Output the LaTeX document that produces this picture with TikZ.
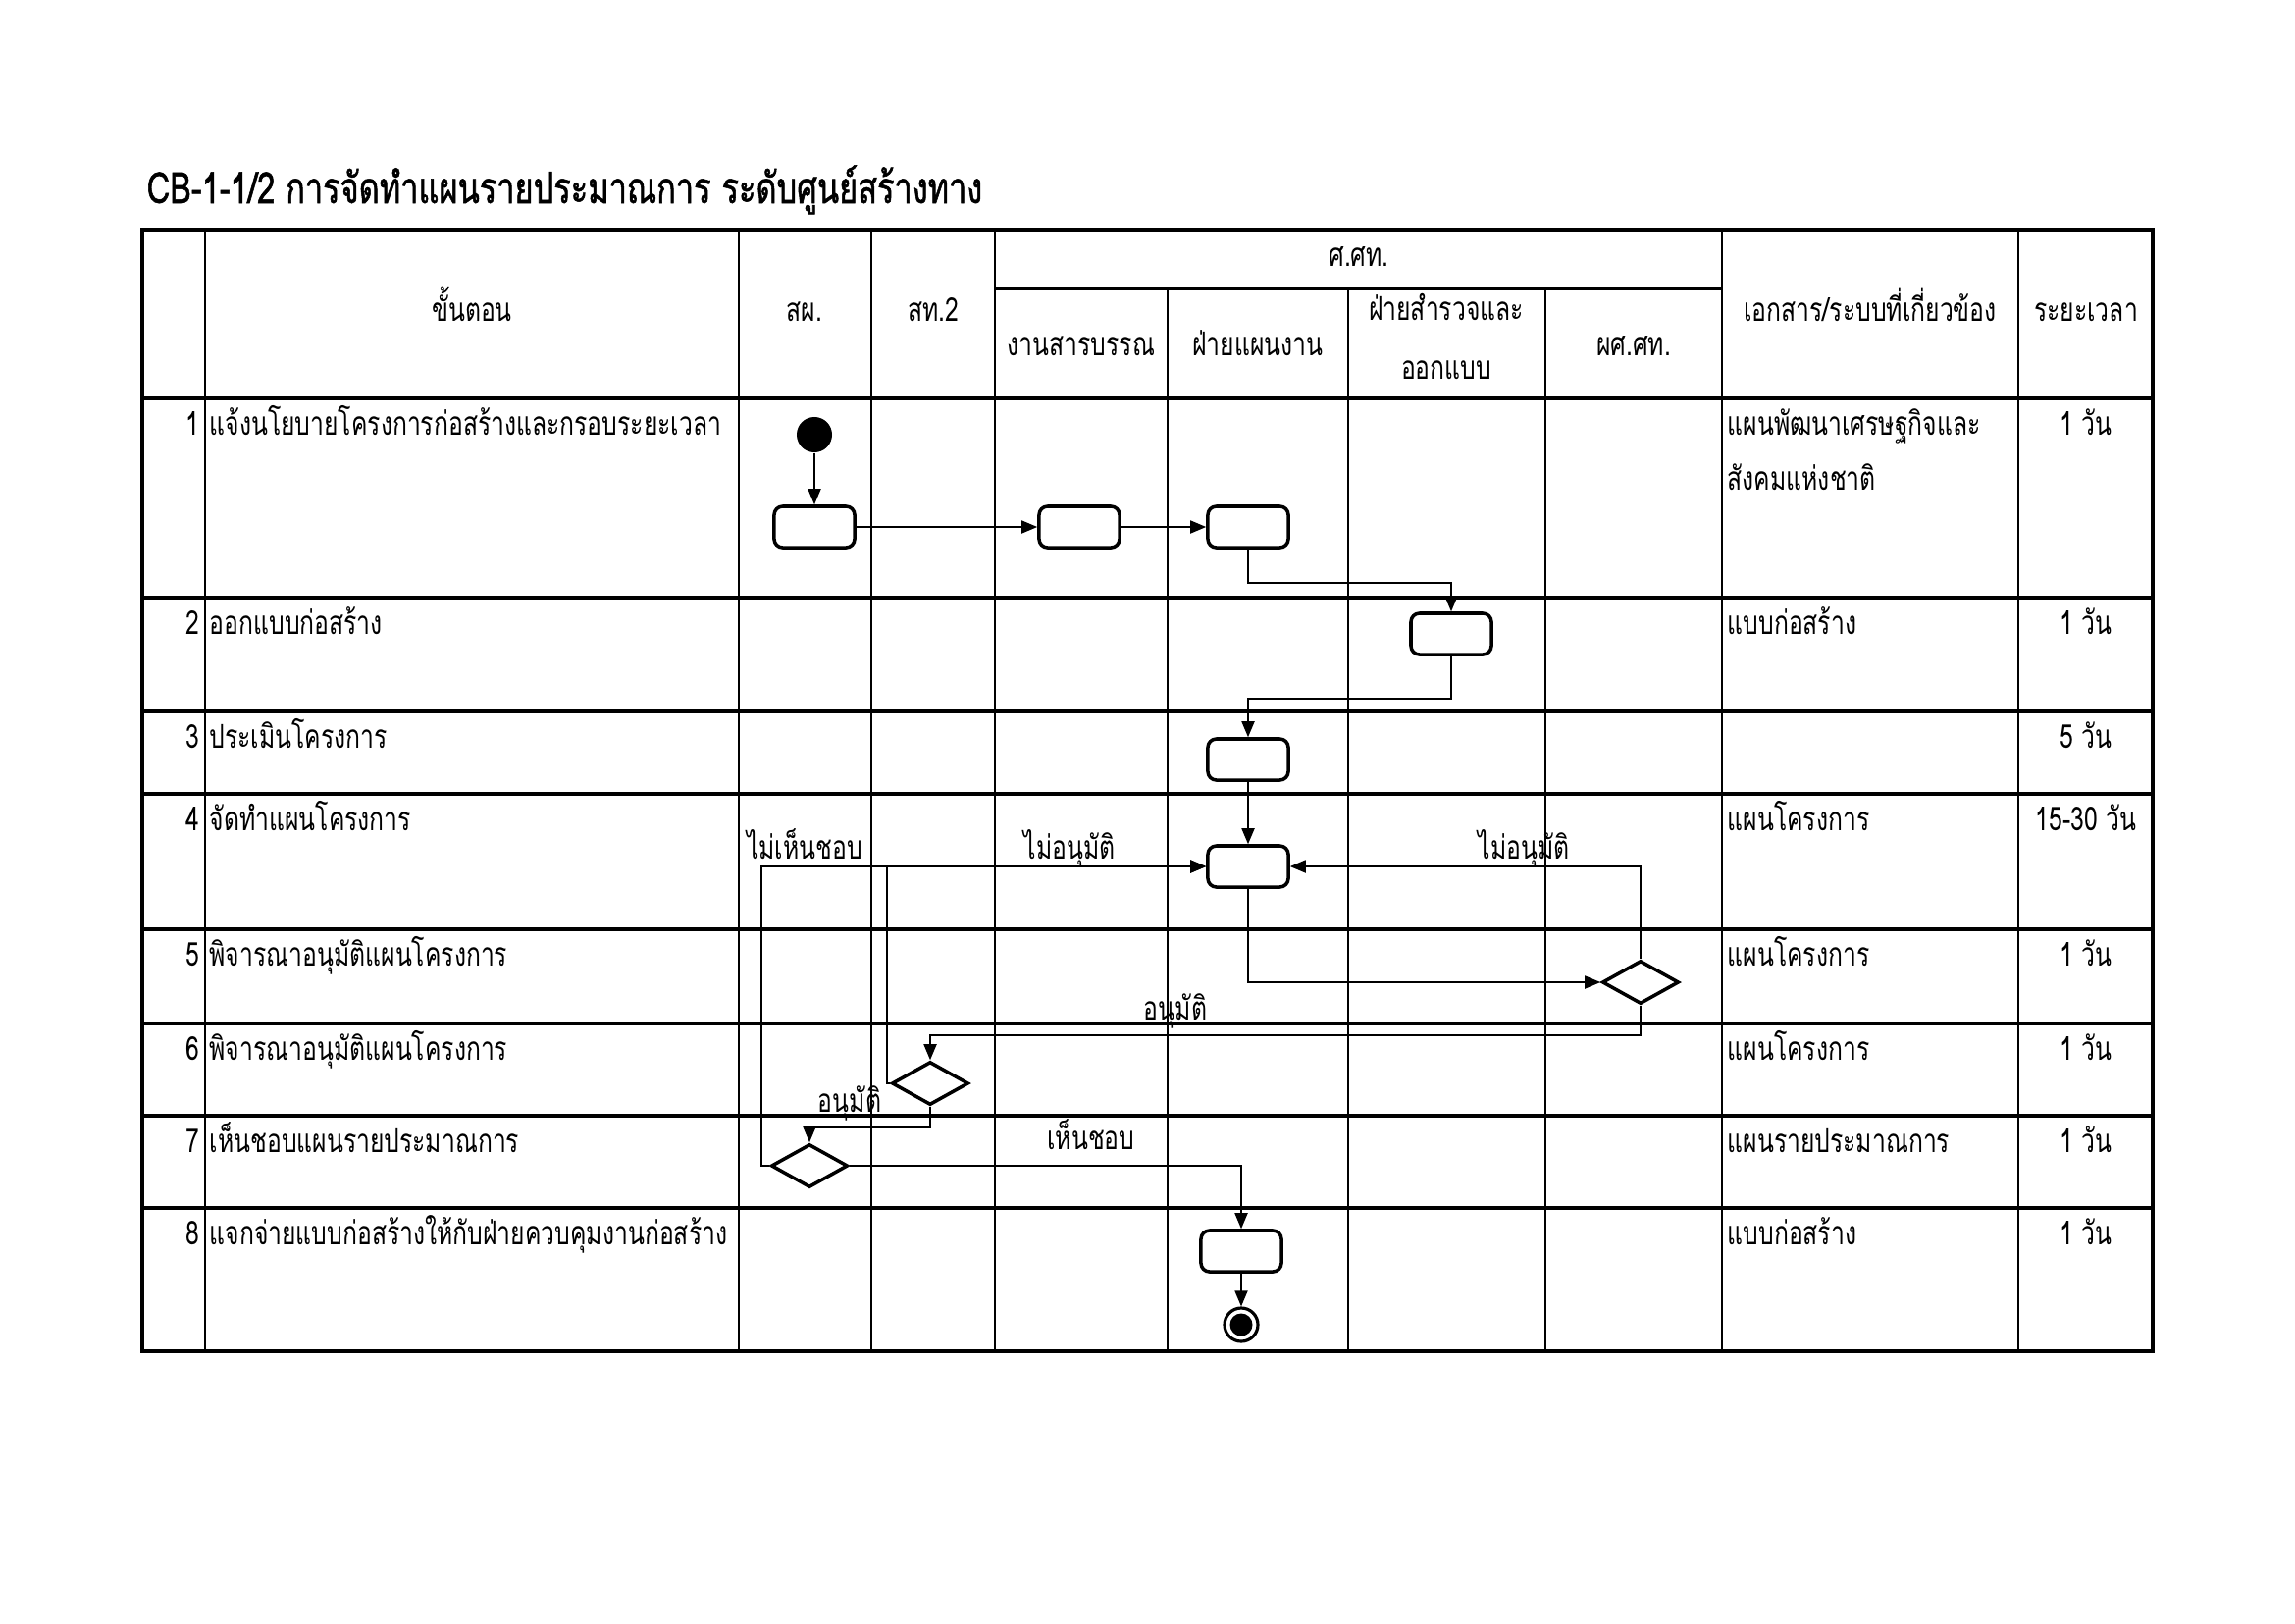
\documentclass[tikz,border=0pt]{standalone}
\usepackage{fontspec}
\setmainfont{Loma}[Script=Thai, FakeStretch=0.74]
\newfontfamily\ttlfont{Loma}[Script=Thai, FakeStretch=0.74, FakeBold=1.2]
\usetikzlibrary{arrows.meta,shapes.geometric}
\begin{document}
\begin{tikzpicture}[x=0.01cm,y=-0.01cm,
  txt/.style={inner sep=0pt, font=\fontsize{9.5}{11}\selectfont},
  ttl/.style={inner sep=0pt, font=\ttlfont\fontsize{12.5}{14}\selectfont},
  rowline/.style={line width=1.2pt},
  colline/.style={line width=0.75pt},
  actbox/.style={draw, line width=1pt, rounded corners=2.5pt, minimum width=0.82cm, minimum height=0.42cm, inner sep=0pt},
  decis/.style={draw, diamond, line width=1pt, minimum width=0.78cm, minimum height=0.44cm, inner sep=0pt},
  conn/.style={line width=0.5pt, -{Triangle[length=0.16cm, width=0.13cm]}},
]
\useasboundingbox (0,0) rectangle (2339,1654);
\fill[white] (0,0) rectangle (2339,1654);

% title
\node[ttl, anchor=base west] (title) at (149,207) {CB-1-1/2 การจัดทำแผนรายประมาณการ ระดับศูนย์สร้างทาง};

% table grid
\draw[colline] (209,234) -- (209,1377);
\draw[colline] (753,234) -- (753,1377);
\draw[colline] (888,234) -- (888,1377);
\draw[colline] (1014,234) -- (1014,1377);
\draw[colline] (1190,294) -- (1190,1377);
\draw[colline] (1374,294) -- (1374,1377);
\draw[colline] (1575,294) -- (1575,1377);
\draw[colline] (1755,234) -- (1755,1377);
\draw[colline] (2057,234) -- (2057,1377);
\draw[rowline] (1014,294) -- (1755,294);
\foreach \yy in {406,609,725,809,947,1043,1137,1231}
  \draw[rowline] (145,\yy) -- (2194,\yy);
\draw[line width=1.3pt] (145,234) rectangle (2194,1377);

% header
\node[txt, anchor=base] (h1) at (481,327) {ขั้นตอน};
\node[txt, anchor=base] (h2) at (820,327) {สผ.};
\node[txt, anchor=base] (h3) at (951,327) {สท.2};
\node[txt, anchor=base] (h4) at (1385,271) {ศ.ศท.};
\node[txt, anchor=base] (h5) at (1102,362) {งานสารบรรณ};
\node[txt, anchor=base] (h6) at (1282,362) {ฝ่ายแผนงาน};
\node[txt, anchor=base] (h7a) at (1474,326) {ฝ่ายสำรวจและ};
\node[txt, anchor=base] (h7b) at (1474,386) {ออกแบบ};
\node[txt, anchor=base] (h8) at (1665,362) {ผศ.ศท.};
\node[txt, anchor=base] (h9) at (1906,327) {เอกสาร/ระบบที่เกี่ยวข้อง};
\node[txt, anchor=base] (h10) at (2126,327) {ระยะเวลา};

% step numbers
\node[txt, anchor=base east] (n1) at (204,443) {1};
\node[txt, anchor=base east] (n2) at (204,646) {2};
\node[txt, anchor=base east] (n3) at (204,762) {3};
\node[txt, anchor=base east] (n4) at (204,846) {4};
\node[txt, anchor=base east] (n5) at (204,984) {5};
\node[txt, anchor=base east] (n6) at (204,1080) {6};
\node[txt, anchor=base east] (n7) at (204,1174) {7};
\node[txt, anchor=base east] (n8) at (204,1268) {8};
% step texts
\node[txt, anchor=base west] (s1) at (213,443) {แจ้งนโยบายโครงการก่อสร้างและกรอบระยะเวลา};
\node[txt, anchor=base west] (s2) at (213,646) {ออกแบบก่อสร้าง};
\node[txt, anchor=base west] (s3) at (213,762) {ประเมินโครงการ};
\node[txt, anchor=base west] (s4) at (213,846) {จัดทำแผนโครงการ};
\node[txt, anchor=base west] (s5) at (213,984) {พิจารณาอนุมัติแผนโครงการ};
\node[txt, anchor=base west] (s6) at (213,1080) {พิจารณาอนุมัติแผนโครงการ};
\node[txt, anchor=base west] (s7) at (213,1174) {เห็นชอบแผนรายประมาณการ};
\node[txt, anchor=base west] (s8) at (213,1268) {แจกจ่ายแบบก่อสร้างให้กับฝ่ายควบคุมงานก่อสร้าง};
% documents
\node[txt, anchor=base west] (d1a) at (1760,443) {แผนพัฒนาเศรษฐกิจและ};
\node[txt, anchor=base west] (d1b) at (1760,499) {สังคมแห่งชาติ};
\node[txt, anchor=base west] (d2) at (1760,646) {แบบก่อสร้าง};
\node[txt, anchor=base west] (d4) at (1760,846) {แผนโครงการ};
\node[txt, anchor=base west] (d5) at (1760,984) {แผนโครงการ};
\node[txt, anchor=base west] (d6) at (1760,1080) {แผนโครงการ};
\node[txt, anchor=base west] (d7) at (1760,1174) {แผนรายประมาณการ};
\node[txt, anchor=base west] (d8) at (1760,1268) {แบบก่อสร้าง};
% durations
\node[txt, anchor=base] (t1) at (2126,443) {1 วัน};
\node[txt, anchor=base] (t2) at (2126,646) {1 วัน};
\node[txt, anchor=base] (t3) at (2126,762) {5 วัน};
\node[txt, anchor=base] (t4) at (2126,846) {15-30 วัน};
\node[txt, anchor=base] (t5) at (2126,984) {1 วัน};
\node[txt, anchor=base] (t6) at (2126,1080) {1 วัน};
\node[txt, anchor=base] (t7) at (2126,1174) {1 วัน};
\node[txt, anchor=base] (t8) at (2126,1268) {1 วัน};

% flow nodes
\node[circle, fill=black, minimum size=0.36cm, inner sep=0pt] (st) at (830,443) {};
\node[actbox] (A) at (830,537) {};
\node[actbox] (B) at (1100,537) {};
\node[actbox] (C) at (1272,537) {};
\node[actbox] (D) at (1479,646) {};
\node[actbox] (E) at (1272,774) {};
\node[actbox] (F) at (1272,883) {};
\node[decis] (G) at (1672,1001) {};
\node[decis] (H) at (948,1104) {};
\node[decis] (I) at (825,1188) {};
\node[actbox] (J) at (1265,1275) {};
\node[circle, draw, line width=0.9pt, minimum size=0.34cm, inner sep=0pt] (en) at (1265,1350) {};
\fill (en.center) circle (0.115cm);

% connectors
\draw[conn] (st) -- (A);
\draw[conn] (A) -- (B);
\draw[conn] (B) -- (C);
\draw[conn] (C.south) -- ++(0,34) -| (D.north);
\draw[conn] (D.south) -- ++(0,43) -| (E.north);
\draw[conn] (E) -- (F);
\draw[conn] (F.south) |- (G.west);
\draw[conn] (G.north) |- (F.east);
\draw[conn] (G.south) -- ++(0,30) -| (H.north);
\draw[conn] (H.west) -- ++(-3,0) |- (F.west);
\draw[conn] (H.south) -- ++(0,21) -| (I.north);
\draw[conn] (I.west) -- ++(-8,0) |- (F.west);
\draw[conn] (I.east) -| (J.north);
\draw[conn] (J) -- (en);

% connector labels
\node[txt, anchor=base] (l1) at (820,875) {ไม่เห็นชอบ};
\node[txt, anchor=base] (l2) at (1090,875) {ไม่อนุมัติ};
\node[txt, anchor=base] (l3) at (1553,875) {ไม่อนุมัติ};
\node[txt, anchor=base] (l4) at (1198,1039) {อนุมัติ};
\node[txt, anchor=base] (l5) at (866,1133) {อนุมัติ};
\node[txt, anchor=base] (l6) at (1112,1171) {เห็นชอบ};
\end{tikzpicture}
\end{document}
